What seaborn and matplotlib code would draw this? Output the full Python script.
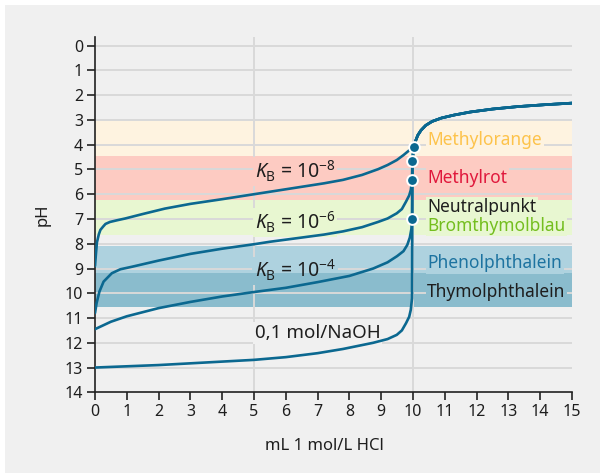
import matplotlib
matplotlib.use("Agg")
import matplotlib.pyplot as plt
import seaborn as sns
from matplotlib.patches import Rectangle

# titration curves (mL HCl, pH)
strong_x = [0, 1, 2, 3, 4, 5, 6, 7, 7.8, 8.75, 9.2, 9.49, 9.65, 9.78, 9.88, 9.93, 9.97]
strong_ph = [13.0, 12.95, 12.9, 12.83, 12.76, 12.69, 12.58, 12.42, 12.25, 12.0, 11.85,
             11.68, 11.5, 11.21, 10.95, 10.67, 10.2]

kb4_x = [0, 0.5, 1, 2, 3, 4, 5, 6, 7, 8, 8.75, 9.2, 9.5, 9.7, 9.82, 9.9, 9.95, 9.97]
kb4_ph = [11.45, 11.15, 10.93, 10.6, 10.35, 10.13, 9.95, 9.78, 9.55, 9.3, 9.0, 8.75,
          8.5, 8.3, 8.05, 7.75, 7.4, 7.0]

kb6_x = [0, 0.05, 0.14, 0.27, 0.53, 0.8, 1.16, 2, 3, 4, 5, 5.5, 6.5, 7.2, 7.8, 8.4, 8.9,
         9.2, 9.49, 9.65, 9.78, 9.88, 9.93, 9.97]
kb6_ph = [10.8, 10.4, 9.93, 9.53, 9.19, 9.03, 8.93, 8.68, 8.41, 8.2, 8.02, 7.92, 7.75,
          7.63, 7.5, 7.33, 7.12, 6.98, 6.77, 6.6, 6.3, 6.05, 5.83, 5.43]

kb8_x = [0, 0.03, 0.06, 0.12, 0.17, 0.26, 0.33, 0.47, 0.7, 0.95, 1.5, 2.2, 3, 4, 5,
         5.5, 6.5, 7.2, 7.8, 8.4, 8.9, 9.2, 9.49, 9.7, 9.85, 9.95, 10.02]
kb8_ph = [8.9, 8.4, 7.95, 7.62, 7.44, 7.3, 7.2, 7.12, 7.05, 6.98, 6.8, 6.58, 6.39, 6.2,
          6.0, 5.9, 5.7, 5.56, 5.42, 5.22, 4.99, 4.82, 4.62, 4.42, 4.26, 4.15, 4.1]

# shared branch after the equivalence point
acid_x = [9.98, 10.03, 10.08, 10.15, 10.25, 10.4, 10.6, 10.9, 11.3, 11.8, 12.5, 13.3, 14.2, 15.0]
acid_ph = [4.6, 4.1, 3.85, 3.62, 3.42, 3.22, 3.06, 2.92, 2.8, 2.68, 2.56, 2.46, 2.38, 2.32]

# equivalence points
eq_x = [10.03, 9.98, 9.97, 9.97]
eq_ph = [4.1, 4.66, 5.43, 7.0]

# indicator ranges (pH from, pH to)
ind_names = ["Methylorange", "Methylrot", "Bromthymolblau", "Phenolphthalein", "Thymolphthalein"]
ind_lo = [3.05, 4.45, 6.25, 8.1, 9.2]
ind_hi = [4.45, 6.25, 7.65, 9.2, 10.55]
band_colors = ["#fef3e0", "#fdcbc2", "#e8f7d1", "#aed2df", "#8abccd"]

curve_labels = [r"$K_\mathrm{B}$ = 10$^{-8}$", r"$K_\mathrm{B}$ = 10$^{-6}$",
                r"$K_\mathrm{B}$ = 10$^{-4}$", "0,1 mol/NaOH"]

BG = "#f0f0f0"
LINE = "#0b6890"
TXT = "#1e1e1e"

sns.set_theme(style="white")
plt.rcParams["font.family"] = ["Noto Sans", "DejaVu Sans"]
plt.rcParams["mathtext.fontset"] = "custom"
plt.rcParams["mathtext.rm"] = "Noto Sans"
plt.rcParams["mathtext.it"] = "Noto Sans:italic"

fig = plt.figure(figsize=(6, 4.73), dpi=100)
fig.patch.set_facecolor("white")
fig.patches.append(Rectangle((5 / 600, 0), 1, 1 - 5 / 473, transform=fig.transFigure,
                             facecolor=BG, edgecolor="none", zorder=-10))
ax = fig.add_axes([95 / 600, 1 - 392.3 / 473, 477 / 600, 355.3 / 473])
ax.set_facecolor(BG)

for lo, hi, c in zip(ind_lo, ind_hi, band_colors):
    ax.axhspan(lo, hi, color=c, lw=0, zorder=0)

# grid lines
for p in range(0, 14):
    ax.axhline(p, color="#d9d9d9", lw=1.4, zorder=1)
for v in [5, 10]:
    ax.axvline(v, color="#d9d9d9", lw=1.4, zorder=1)

curves = [(strong_x, strong_ph), (kb4_x, kb4_ph), (kb6_x, kb6_ph), (kb8_x, kb8_ph)]
for xs, ys in curves:
    tail = [(a, b) for a, b in zip(acid_x, acid_ph) if b < ys[-1]]
    fx = list(xs) + [a for a, _ in tail]
    fy = list(ys) + [b for _, b in tail]
    sns.lineplot(x=fx, y=fy, sort=False, estimator=None, color=LINE, lw=1.9, ax=ax, zorder=5)

sns.scatterplot(x=eq_x, y=eq_ph, color=LINE, s=60, edgecolor="white", linewidth=1.4,
                ax=ax, zorder=6)

ax.set_xlim(0, 15)
ax.set_ylim(14, -0.35)

# curve labels (background box hides the grid lines behind the text)
lab_y = [5.38, 7.42, 9.38, 11.82]
lab_bg = [band_colors[1], band_colors[2], None, BG]
lab_size = [14, 14, 14, 13.5]
kb4_text = None
for t, yy, bg, fs in zip(curve_labels, lab_y, lab_bg, lab_size):
    box = dict(boxstyle="square,pad=0.1", fc=bg, ec="none") if bg else None
    txt = ax.text(5.02, yy, t, fontsize=fs, color=TXT, va="baseline", ha="left", zorder=3,
                  bbox=box)
    if bg is None:
        kb4_text = txt

# K_B = 10^-4 sits on the border of two bands: back it with one patch per band
fig.canvas.draw()
bb = kb4_text.get_window_extent().transformed(ax.transData.inverted())
x0, x1 = min(bb.x0, bb.x1) - 0.08, max(bb.x0, bb.x1) + 0.08
y_top, y_bot = min(bb.y0, bb.y1) - 0.05, max(bb.y0, bb.y1) + 0.05
for lo, hi, c in zip(ind_lo[3:], ind_hi[3:], band_colors[3:]):
    a, b = max(lo, y_top), min(hi, y_bot)
    if b > a:
        ax.add_patch(Rectangle((x0, a), x1 - x0, b - a, fc=c, ec="none", zorder=2))

# indicator labels
right_text = ["Methylorange", "Methylrot", "Neutralpunkt", "Bromthymolblau",
              "Phenolphthalein", "Thymolphthalein"]
right_y = [4.0, 5.56, 6.73, 7.47, 8.99, 10.16]
right_col = ["#fdc34b", "#e0183c", TXT, "#74be1f", "#1d73a0", TXT]
right_bg = [band_colors[0], band_colors[1], band_colors[2], band_colors[2],
            band_colors[3], band_colors[4]]
for t, yy, c, bg in zip(right_text, right_y, right_col, right_bg):
    ax.text(10.45, yy, t, fontsize=12.5, color=c, va="baseline", ha="left", zorder=3,
            bbox=dict(boxstyle="square,pad=0.1", fc=bg, ec="none"))

ax.set_xticks(range(0, 16))
ax.set_yticks(range(0, 15))
ax.tick_params(axis="both", direction="out", length=5.5, width=1.2, color="#222222",
               labelsize=11.5, labelcolor=TXT, pad=3, left=True, bottom=True)
sns.despine(ax=ax)
for s in ["left", "bottom"]:
    ax.spines[s].set_color("#222222")
    ax.spines[s].set_linewidth(1.2)
ax.set_xlabel("mL 1 mol/L HCl", fontsize=12, color=TXT, labelpad=9)
ax.xaxis.set_label_coords(0.48, -0.13)
ax.set_ylabel("pH", fontsize=12, color=TXT, labelpad=10)

fig.savefig("out.png", dpi=100, facecolor=fig.get_facecolor())
